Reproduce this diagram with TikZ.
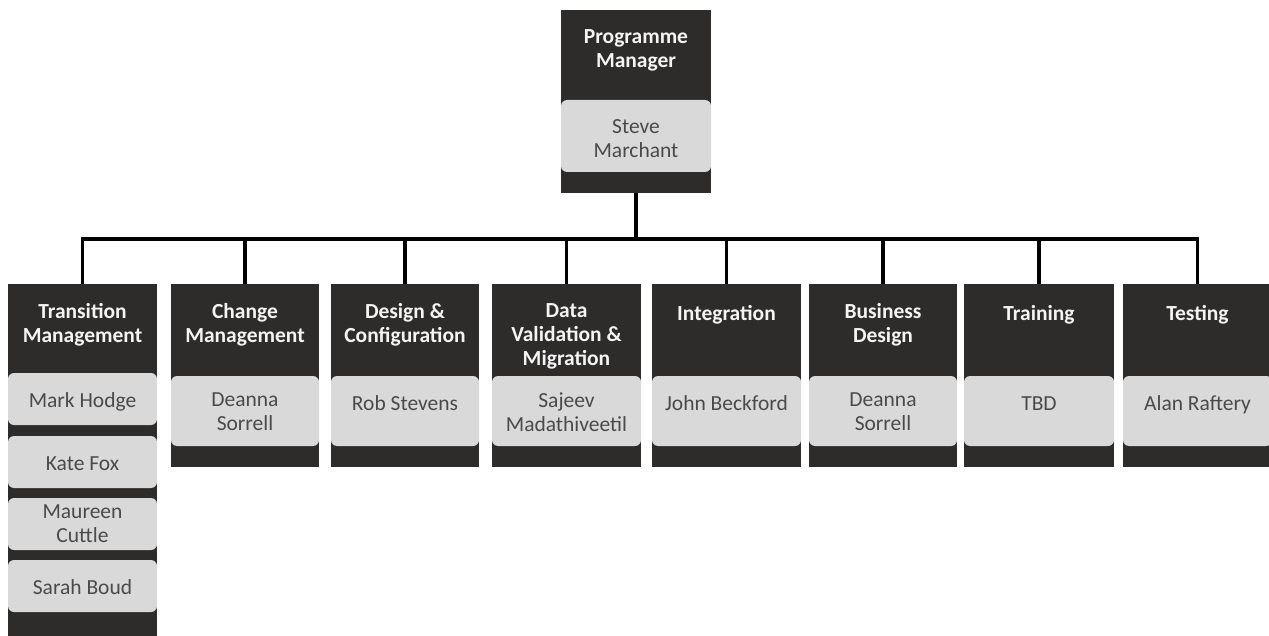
\documentclass[tikz,border=0pt]{standalone}
\usepackage{fontspec}
\setmainfont{Carlito}
\definecolor{boxdark}{HTML}{2E2B2B}
\definecolor{boxlight}{HTML}{D9D9D9}
\definecolor{nametext}{HTML}{4A4A4A}
\definecolor{headtext}{HTML}{F4F4F4}
\tikzset{
  unit/.style={fill=boxdark, draw=none, inner sep=0pt, outer sep=0pt, anchor=north west},
  slot/.style={fill=boxlight, draw=none, rounded corners=6pt, inner sep=0pt, outer sep=0pt, anchor=north west},
  title/.style={text=headtext, font=\fontsize{21.5}{24}\selectfont\bfseries, align=center,
    anchor=north, inner sep=0pt, execute at begin node=\strut},
  person/.style={text=nametext, font=\fontsize{21.5}{24}\selectfont, align=center,
    anchor=north, inner sep=0pt, execute at begin node=\strut},
  link/.style={draw=black, line width=3.5pt, line join=miter}
}
\begin{document}
\begin{tikzpicture}[x=1pt, y=-1pt]
\useasboundingbox (0,0) rectangle (1269,636);

% programme manager
\node[unit, minimum width=150pt, minimum height=183pt] (top) at (561,10) {};
\node[slot, minimum width=150pt, minimum height=72pt] (top-s) at (561,100) {};
\node[title] (top-h) at ([yshift=-19pt]top.north) {Programme\\Manager};
\node[person] (top-p) at ([yshift=-19pt]top-s.north) {Steve\\Marchant};

% transition management, with four people
\node[unit, minimum width=149pt, minimum height=360pt] (c1) at (8,284) {};
\node[title] (c1-h) at ([yshift=-19pt]c1.north) {Transition\\Management};
\foreach \k/\ty/\pp in {1/373/{Mark Hodge}, 2/436/{Kate Fox}, 3/498/{Maureen\\Cuttle}, 4/560/{Sarah Boud}}{
  \node[slot, minimum width=149pt, minimum height=52pt] (c1-s\k) at (8,\ty) {};
  \node[person, anchor=center] (c1-p\k) at ([yshift=-3.5pt]c1-s\k.center) {\pp};
}

% remaining workstreams
\foreach \id/\lx/\w/\hd/\pp in {
  c2/171/148/{Change\\Management}/{Deanna\\Sorrell},
  c3/331/148/{Design \&\\Configuration}/{Rob Stevens},
  c4/492/149/{Data\\Validation \&\\Migration}/{Sajeev\\Madathiveetil},
  c5/652/149/{Integration}/{John Beckford},
  c6/809/148/{Business\\Design}/{Deanna\\Sorrell},
  c7/964/150/{Training}/{TBD},
  c8/1123/149/{Testing}/{Alan Raftery}}{
  \node[unit, minimum width=\w pt, minimum height=183pt] (\id) at (\lx,284) {};
  \node[slot, minimum width=\w pt, minimum height=70pt] (\id-s) at (\lx,376) {};
  \node[title] (\id-h) at ([yshift=-19pt]\id.north) {\hd};
  \node[person] (\id-p) at ([yshift=-17pt]\id-s.north) {\pp};
}

% reporting lines
\coordinate (bus) at (637,239);
\draw[link] (top.south) -- (top.south |- bus);
\draw[link] (c1.north) -- (c1.north |- bus) -- (c8.north |- bus) -- (c8.north);
\foreach \id in {c2,c3,c4,c5,c6,c7}{
  \draw[link] (\id.north) -- (\id.north |- bus);
}
\end{tikzpicture}
\end{document}
